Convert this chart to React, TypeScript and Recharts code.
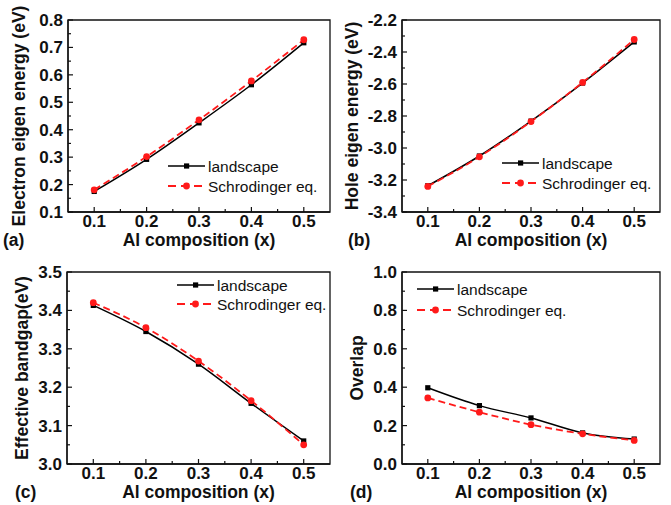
import React from "react";
import {
  LineChart,
  Line,
  XAxis,
  YAxis,
  ReferenceArea,
  Legend,
} from "recharts";

const composition = [0.1, 0.2, 0.3, 0.4, 0.5];

const electronLandscape = [0.175, 0.292, 0.425, 0.564, 0.717];
const electronSchrodinger = [0.181, 0.302, 0.436, 0.578, 0.728];

const holeLandscape = [-3.236, -3.05, -2.832, -2.594, -2.337];
const holeSchrodinger = [-3.24, -3.055, -2.835, -2.59, -2.322];

const gapLandscape = [3.413, 3.345, 3.26, 3.158, 3.06];
const gapSchrodinger = [3.42, 3.355, 3.268, 3.165, 3.05];

const overlapLandscape = [0.397, 0.304, 0.24, 0.162, 0.13];
const overlapSchrodinger = [0.344, 0.27, 0.205, 0.157, 0.123];

const xTicks = [0.1, 0.15, 0.2, 0.25, 0.3, 0.35, 0.4, 0.45, 0.5];
const xMajor = [0.1, 0.2, 0.3, 0.4, 0.5];

const yTicksA = [0.1, 0.15, 0.2, 0.25, 0.3, 0.35, 0.4, 0.45, 0.5, 0.55, 0.6, 0.65, 0.7, 0.75, 0.8];
const yMajorA = [0.1, 0.2, 0.3, 0.4, 0.5, 0.6, 0.7, 0.8];
const yTicksB = [-3.4, -3.3, -3.2, -3.1, -3.0, -2.9, -2.8, -2.7, -2.6, -2.5, -2.4, -2.3, -2.2];
const yMajorB = [-3.4, -3.2, -3.0, -2.8, -2.6, -2.4, -2.2];
const yTicksC = [3.0, 3.05, 3.1, 3.15, 3.2, 3.25, 3.3, 3.35, 3.4, 3.45, 3.5];
const yMajorC = [3.0, 3.1, 3.2, 3.3, 3.4, 3.5];
const yTicksD = [0, 0.1, 0.2, 0.3, 0.4, 0.5, 0.6, 0.7, 0.8, 0.9, 1.0];
const yMajorD = [0, 0.2, 0.4, 0.6, 0.8, 1.0];

const FONT = "'Liberation Sans', Arial, sans-serif";
const INK = "#111";
const RED = "#ff1a1a";

const isMajor = (v: number, list: number[]) => list.some((m) => Math.abs(m - v) < 1e-6);

const toRows = (a: number[], b: number[]) =>
  composition.map((x, i) => ({ x, landscape: a[i], schrodinger: b[i] }));

function XTick({ x, y, payload }: any) {
  const major = isMajor(payload.value, xMajor);
  return (
    <g>
      <line x1={x} x2={x} y1={y} y2={y - (major ? 5 : 3)} stroke={INK} strokeWidth={1.2} />
      {major && (
        <text x={x} y={y + 15} textAnchor="middle" fontFamily={FONT} fontWeight="bold" fontSize={17} fill={INK}>
          {payload.value.toFixed(1)}
        </text>
      )}
    </g>
  );
}

function YTick({ x, y, payload, majors }: any) {
  const major = isMajor(payload.value, majors);
  return (
    <g>
      <line x1={x} x2={x + (major ? 5 : 3)} y1={y} y2={y} stroke={INK} strokeWidth={1.2} />
      {major && (
        <text x={x - 5} y={y + 6} textAnchor="end" fontFamily={FONT} fontWeight="bold" fontSize={17} fill={INK}>
          {payload.value.toFixed(1)}
        </text>
      )}
    </g>
  );
}

function YTitle({ viewBox, value, cx }: any) {
  const cy = viewBox.y + viewBox.height / 2;
  return (
    <text
      x={cx}
      y={cy}
      transform={`rotate(-90 ${cx} ${cy})`}
      textAnchor="middle"
      dominantBaseline="central"
      fontFamily={FONT}
      fontWeight="bold"
      fontSize={17.5}
      fill={INK}
    >
      {value}
    </text>
  );
}

function XTitle({ viewBox, tag, tagX }: any) {
  const cy = viewBox.y + 28;
  return (
    <g fontFamily={FONT} fontWeight="bold" fontSize={17.5} fill={INK}>
      <text x={viewBox.x + viewBox.width / 2} y={cy} textAnchor="middle" dominantBaseline="central">
        Al composition (x)
      </text>
      <text x={tagX} y={cy} dominantBaseline="central">
        {tag}
      </text>
    </g>
  );
}

function Square(p: any) {
  return <rect key={`sq-${p.index}`} x={p.cx - 2.6} y={p.cy - 2.6} width={5.2} height={5.2} fill="#000" />;
}

function Circle(p: any) {
  return <circle key={`ci-${p.index}`} cx={p.cx} cy={p.cy} r={3.4} fill={RED} />;
}

function LegendBox({ gap }: any) {
  return (
    <svg width={170} height={24 + gap} style={{ overflow: "visible" }}>
      <line x1={0} x2={37} y1={10} y2={10} stroke="#000" strokeWidth={1.6} />
      <rect x={16} y={7.4} width={5.2} height={5.2} fill="#000" />
      <text x={40} y={15.5} fontFamily={FONT} fontSize={15.5} fill={INK}>landscape</text>
      <line x1={0} x2={37} y1={10 + gap} y2={10 + gap} stroke={RED} strokeWidth={1.8} strokeDasharray="8 5" />
      <circle cx={18.5} cy={10 + gap} r={3.4} fill={RED} />
      <text x={40} y={15.5 + gap} fontFamily={FONT} fontSize={15.5} fill={INK}>Schrodinger eq.</text>
    </svg>
  );
}

type PanelProps = {
  left: number;
  top: number;
  width: number;
  height: number;
  axisW: number;
  right: number;
  xAxisH: number;
  rows: any[];
  domain: [number, number];
  ticks: number[];
  majors: number[];
  yLabel: string;
  yLabelX: number;
  tag: string;
  tagX: number;
  legend: { left: number; top: number; gap: number };
};

function Panel(p: PanelProps) {
  return (
    <div style={{ position: "absolute", left: p.left, top: p.top }}>
      <LineChart
        width={p.width}
        height={p.height}
        data={p.rows}
        margin={{ top: 20, right: p.right, bottom: 0, left: 0 }}
      >
        <XAxis
          dataKey="x"
          type="number"
          domain={[0.05, 0.55]}
          ticks={xTicks}
          interval={0}
          allowDataOverflow
          height={p.xAxisH}
          tickSize={0}
          tickMargin={0}
          tickLine={false}
          axisLine={{ stroke: INK, strokeWidth: 1.3 }}
          tick={(t: any) => <XTick {...t} />}
          label={<XTitle tag={p.tag} tagX={p.tagX} />}
        />
        <YAxis
          type="number"
          domain={p.domain}
          ticks={p.ticks}
          interval={0}
          allowDataOverflow
          width={p.axisW}
          tickSize={0}
          tickMargin={0}
          tickLine={false}
          axisLine={{ stroke: INK, strokeWidth: 1.3 }}
          tick={(t: any) => <YTick {...t} majors={p.majors} />}
          label={<YTitle value={p.yLabel} cx={p.yLabelX} />}
        />
        <ReferenceArea
          x1={0.05}
          x2={0.55}
          y1={p.domain[0]}
          y2={p.domain[1]}
          fill="none"
          stroke={INK}
          strokeWidth={1.3}
          ifOverflow="visible"
        />
        <Line
          type="monotone"
          dataKey="landscape"
          stroke="#000"
          strokeWidth={1.5}
          dot={(d: any) => <Square {...d} />}
          isAnimationActive={false}
        />
        <Line
          type="monotone"
          dataKey="schrodinger"
          stroke={RED}
          strokeWidth={1.8}
          strokeDasharray="7 4"
          dot={(d: any) => <Circle {...d} />}
          isAnimationActive={false}
        />
        <Legend
          layout="vertical"
          align="center"
          verticalAlign="middle"
          wrapperStyle={{ left: p.legend.left, top: p.legend.top, width: 170 }}
          content={() => <LegendBox gap={p.legend.gap} />}
        />
      </LineChart>
    </div>
  );
}

export default function App() {
  return (
    <div style={{ position: "absolute", left: 0, top: 0, width: 671, height: 505, background: "#fff" }}>
      <Panel
        left={0}
        top={0}
        width={335}
        height={252}
        axisW={68}
        right={5}
        xAxisH={40}
        rows={toRows(electronLandscape, electronSchrodinger)}
        domain={[0.1, 0.8]}
        ticks={yTicksA}
        majors={yMajorA}
        yLabel="Electron eigen energy (eV)"
        yLabelX={19}
        tag="(a)"
        tagX={3}
        legend={{ left: 168, top: 156, gap: 20 }}
      />
      <Panel
        left={335}
        top={0}
        width={336}
        height={252}
        axisW={67}
        right={11}
        xAxisH={40}
        rows={toRows(holeLandscape, holeSchrodinger)}
        domain={[-3.4, -2.2]}
        ticks={yTicksB}
        majors={yMajorB}
        yLabel="Hole eigen energy (eV)"
        yLabelX={17}
        tag="(b)"
        tagX={13}
        legend={{ left: 167, top: 153, gap: 20 }}
      />
      <Panel
        left={0}
        top={252}
        width={335}
        height={253}
        axisW={67}
        right={5}
        xAxisH={41}
        rows={toRows(gapLandscape, gapSchrodinger)}
        domain={[3.0, 3.5]}
        ticks={yTicksC}
        majors={yMajorC}
        yLabel="Effective bandgap(eV)"
        yLabelX={22}
        tag="(c)"
        tagX={15}
        legend={{ left: 177, top: 23, gap: 19 }}
      />
      <Panel
        left={335}
        top={252}
        width={336}
        height={253}
        axisW={67}
        right={11}
        xAxisH={41}
        rows={toRows(overlapLandscape, overlapSchrodinger)}
        domain={[0, 1.0]}
        ticks={yTicksD}
        majors={yMajorD}
        yLabel="Overlap"
        yLabelX={22}
        tag="(d)"
        tagX={15}
        legend={{ left: 82, top: 27, gap: 21 }}
      />
    </div>
  );
}
